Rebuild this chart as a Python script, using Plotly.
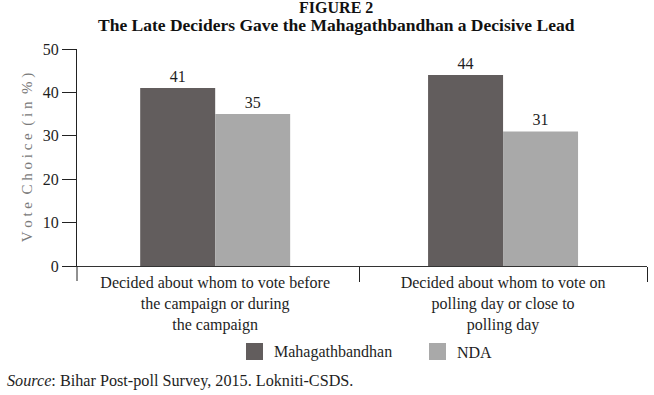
import plotly.graph_objects as go

categories = [
    "Decided about whom to vote before<br>the campaign or during<br>the campaign",
    "Decided about whom to vote on<br>polling day or close to<br>polling day",
]
series_names = ["Mahagathbandhan", "NDA"]
mgb_values = [41, 44]
nda_values = [35, 31]
y_ticks = [0, 10, 20, 30, 40, 50]

FONT = "Liberation Serif"
colors = ["#625d5d", "#a9a9a9"]
TXT = "#1e1e1e"

W, H = 654, 395
L, R, T, B = 77, 7, 49, 129
plot_h = H - T - B
plot_w = W - L - R
def py(pix):
    return (H - B - pix) / plot_h
def px(pix):
    return (pix - L) / plot_w

fig = go.Figure()
for name, vals, col in zip(series_names, [mgb_values, nda_values], colors):
    fig.add_trace(go.Bar(
        x=categories, y=vals, name=name, marker=dict(color=col, line=dict(width=0)),
        text=vals, textposition="outside", cliponaxis=False, showlegend=False,
        textfont=dict(family=FONT, size=16, color=TXT),
    ))

# custom legend (17px squares like the reference)
shapes = []
annotations = []
leg_x = [246, 429]
for name, col, lx in zip(series_names, colors, leg_x):
    shapes.append(dict(type="rect", xref="paper", yref="paper",
                       x0=px(lx), x1=px(lx + 17), y0=py(360), y1=py(343),
                       fillcolor=col, line=dict(width=0)))
    annotations.append(dict(text=name, xref="paper", yref="paper", x=px(lx + 26), y=py(352),
                            xanchor="left", yanchor="middle", showarrow=False,
                            font=dict(family=FONT, size=16, color=TXT)))

# left boundary tick continuing the y-axis line below zero
shapes.append(dict(type="line", xref="paper", yref="paper", x0=0, x1=0,
                   y0=py(266), y1=py(281), line=dict(color="#222", width=1)))

title_text = ("<b><span style='font-size:16px'>FIGURE 2</span></b><br>"
              "<b><span style='font-size:17.5px'>The Late Deciders Gave the "
              "Mahagathbandhan a Decisive Lead</span></b>")

annotations += [
    dict(text=title_text, xref="paper", yref="paper",
         x=px(336), y=py(17.5), xanchor="center", yanchor="middle", align="center",
         showarrow=False, font=dict(family=FONT, size=14, color="#111")),
    dict(text="<i>Source</i>: Bihar Post-poll Survey, 2015. Lokniti-CSDS.",
         xref="paper", yref="paper", x=px(5), y=py(381), xanchor="left", yanchor="middle",
         showarrow=False, font=dict(family=FONT, size=16.2, color=TXT)),
]

fig.update_layout(
    width=W, height=H,
    margin=dict(l=L, r=R, t=T, b=B, autoexpand=False),
    paper_bgcolor="white", plot_bgcolor="white",
    barmode="group", bargap=0.479, bargroupgap=0,
    font=dict(family=FONT, size=16, color=TXT),
    showlegend=False,
    xaxis=dict(
        automargin=False, range=[-0.48, 1.5],
        showline=True, linecolor="#333", linewidth=1,
        ticks="outside", tickson="boundaries", ticklen=15, tickcolor="#222",
        tickfont=dict(family=FONT, size=16, color=TXT), ticklabelstandoff=2,
        showgrid=False,
    ),
    yaxis=dict(
        automargin=False,
        range=[0, 50], tickvals=y_ticks, showline=True, linecolor="#222", linewidth=1,
        ticks="outside", ticklen=14, tickcolor="#222", showgrid=False, zeroline=False,
        tickfont=dict(family=FONT, size=16, color=TXT),
        title=dict(text="V o t e  C h o i c e  ( i n  % )",
                   font=dict(family=FONT, size=15, color="#7a7a7a"), standoff=6),
    ),
    shapes=shapes,
    annotations=annotations,
)

fig.write_html("out.html", config={"displayModeBar": False},
               post_script="document.body.style.margin='0';")
